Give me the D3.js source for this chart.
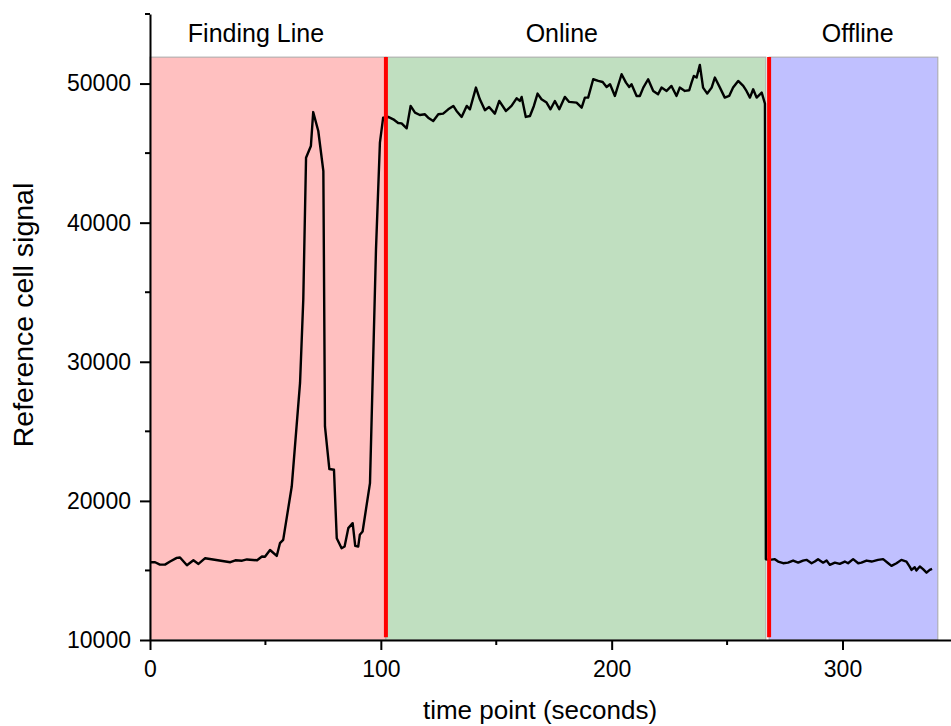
<!DOCTYPE html>
<html>
<head>
<meta charset="utf-8">
<script src="https://cdn.jsdelivr.net/npm/d3@7"></script>
<style>
  body { margin: 0; background: #fff; }
  svg { display: block; font-family: "Liberation Sans", Arial, sans-serif; }
</style>
</head>
<body>
<svg id="chart" width="951" height="726"></svg>
<script>
// time points (seconds) and reference cell signal
const timePoints = [
  0, 2.2, 4.3, 6.5, 8.7, 11.6, 13, 16, 18.8, 21, 23.9, 34.8, 37, 39.9, 42, 46.4, 48.5, 49.8,
  52.0, 54.9, 56.3, 57.7, 61.4, 65.0, 66.4, 67.6, 69.7, 70.7, 72.9, 75.1, 75.8, 77.7, 79.7,
  80.9, 83.0, 84.3, 85.9, 87.8, 88.9, 90.2, 90.9, 92.1, 95.3, 97.9, 99.6,
  101.0, 103.2, 105.4, 107.5, 109.0, 111.2, 112.9, 114.8, 116.9, 119.1, 120.5, 122.7, 124.9,
  127.0, 129.2, 131.4, 132.8, 135.0, 137.2, 138.6, 141.2, 142.9, 145.1, 146.9, 149.4, 151.3,
  154.2, 156.6, 158.8, 160.2, 161.0, 162.8, 164.6, 166.3, 167.9, 169.6, 171.8, 173.5, 175.4,
  177.3, 179.7, 181.6, 184.8, 187.0, 188.4, 189.8, 192.0, 194.2, 196.1, 197.8, 199.3, 201.4,
  204.3, 206.2, 207.6, 208.6, 210.8, 212.2, 213.7, 215.8, 218.0, 220.1, 221.6, 223.8, 225.9,
  228.1, 229.5, 231.7, 233.6, 234.6, 235.6, 236.8, 238.2, 239.6, 241.4, 243.3, 244.7, 246.9,
  249.0, 250.9, 252.6, 254.8, 257.0, 258.4, 259.9, 261.3, 262.8, 265.0, 266.4, 266.8,
  268.5, 270.7, 272.1, 274.3, 276.4, 278.6, 280.8, 282.9, 284.4, 286.6, 288.0, 289.4, 291.6,
  293.1, 294.5, 296.7, 298.8, 301.0, 302.4, 304.6, 306.8, 308.2, 310.4, 312.6, 315.4, 317.6,
  319.8, 321.2, 323.4, 325.5, 327.7, 329.1, 329.9, 331.3, 332.0, 333.5, 334.9, 336.4, 337.8, 338.8
];
const signal = [
  15590, 15590, 15420, 15420, 15640, 15900, 15930, 15370, 15730, 15470, 15880, 15590, 15730, 15700, 15790, 15730, 16000, 15980,
  16470, 16040, 16960, 17200, 21030, 28480, 34470, 44670, 45510, 47950, 46590, 43710, 25350, 22290, 22240,
  17320, 16600, 16720, 18040, 18400, 16770, 16720, 17560, 17800, 21280, 38070, 45750,
  47550, 47600, 47430, 47160, 47140, 46780, 48390, 47910, 47740, 47790, 47550, 47310, 47790,
  47840, 48150, 48390, 48030, 47600, 48390, 48150, 49710, 48870, 48080, 48320, 47840, 48750,
  48030, 48390, 48940, 48750, 49040, 47600, 47670, 48390, 49280, 48870, 48630, 48150, 48750,
  48150, 49040, 48680, 48630, 48270, 48990, 48990, 50310, 50190, 50110, 49750, 49950, 49110,
  50670, 50070, 49750, 49950, 49110, 49110, 49710, 50310, 49470, 49230, 49710, 49470, 49830,
  49110, 49710, 49470, 49520, 50070, 50550, 50430, 51340, 49710, 49280, 49710, 50430, 49710,
  48990, 49110, 49710, 50190, 49830, 49470, 48990, 49590, 48990, 49350, 48560, 15800,
  15760, 15810, 15640, 15520, 15560, 15710, 15560, 15710, 15760, 15520, 15640, 15810, 15560,
  15710, 15400, 15560, 15470, 15640, 15520, 15810, 15520, 15560, 15710, 15640, 15760, 15810,
  15520, 15330, 15520, 15760, 15640, 15280, 15040, 15230, 14990, 15280, 15090, 14840, 15040, 15110
];

// phases shown as shaded bands
const phaseNames = ["Finding Line", "Online", "Offline"];
const phaseStart = [0, 102.2, 268.2];
const phaseEnd = [102.2, 266.8, 341.3];
const phaseLabelAt = [45.9, 178.4, 306.6];
const phaseColors = ["#ffc0c0", "#c0dfc0", "#c0c0ff"];
const bandTop = 51900;
const switchTimes = [102.2, 268.2];

const xTicks = [0, 100, 200, 300];
const xMinorTicks = [50, 150, 250];
const yTicks = [10000, 20000, 30000, 40000, 50000];
const yMinorTicks = [15000, 25000, 35000, 45000, 55000];

const svg = d3.select("#chart");
const x = d3.scaleLinear().domain([0, 347]).range([150, 951]);
const y = d3.scaleLinear().domain([10000, 55000]).range([640, 14]);

const data = timePoints.map((t, i) => ({ t: t, v: signal[i] }));

// shaded bands
svg.selectAll("rect.band")
  .data(phaseNames)
  .enter().append("rect")
  .attr("class", "band")
  .attr("x", (d, i) => x(phaseStart[i]))
  .attr("y", y(bandTop))
  .attr("width", (d, i) => x(phaseEnd[i]) - x(phaseStart[i]))
  .attr("height", y(10000) - y(bandTop))
  .attr("fill", (d, i) => phaseColors[i])
  .attr("stroke", "#a8a8a8")
  .attr("stroke-width", 1);

svg.selectAll("text.phase")
  .data(phaseNames)
  .enter().append("text")
  .attr("class", "phase")
  .attr("x", (d, i) => x(phaseLabelAt[i]))
  .attr("y", y(bandTop) - 15)
  .attr("text-anchor", "middle")
  .attr("font-size", 25)
  .text(d => d);

// signal line
const line = d3.line().x(d => x(d.t)).y(d => y(d.v));
svg.append("path")
  .datum(data)
  .attr("d", line)
  .attr("fill", "none")
  .attr("stroke", "#000")
  .attr("stroke-width", 2.4)
  .attr("stroke-linejoin", "round");

// phase switch markers
svg.selectAll("line.switch")
  .data(switchTimes)
  .enter().append("line")
  .attr("class", "switch")
  .attr("x1", d => x(d)).attr("x2", d => x(d))
  .attr("y1", y(bandTop)).attr("y2", y(10200))
  .attr("stroke", "#ff0000")
  .attr("stroke-width", 4);

// axes
const xAxis = svg.append("g")
  .attr("transform", `translate(0,${y(10000)})`)
  .call(d3.axisBottom(x).tickValues(xTicks).tickSize(10).tickSizeOuter(0).tickPadding(11));
const yAxis = svg.append("g")
  .attr("transform", `translate(${x(0)},0)`)
  .call(d3.axisLeft(y).tickValues(yTicks).tickFormat(d3.format("d"))
    .tickSize(10).tickSizeOuter(0).tickPadding(9));

[xAxis, yAxis].forEach(g => {
  g.select(".domain").attr("stroke", "#000").attr("stroke-width", 2);
  g.selectAll(".tick line").attr("stroke", "#000").attr("stroke-width", 2);
  g.selectAll(".tick text").attr("font-size", 23).attr("fill", "#000")
    .attr("font-family", "'Liberation Sans', Arial, sans-serif");
});

xAxis.selectAll("line.minor")
  .data(xMinorTicks)
  .enter().append("line")
  .attr("class", "minor")
  .attr("x1", d => x(d)).attr("x2", d => x(d))
  .attr("y1", 0).attr("y2", 5)
  .attr("stroke", "#000").attr("stroke-width", 2);

yAxis.selectAll("line.minor")
  .data(yMinorTicks)
  .enter().append("line")
  .attr("class", "minor")
  .attr("x1", 0).attr("x2", -5)
  .attr("y1", d => y(d)).attr("y2", d => y(d))
  .attr("stroke", "#000").attr("stroke-width", 2);

// axis titles
svg.append("text")
  .attr("x", 540)
  .attr("y", 719)
  .attr("text-anchor", "middle")
  .attr("font-size", 26)
  .text("time point (seconds)");

svg.append("text")
  .attr("transform", `translate(33,${315}) rotate(-90)`)
  .attr("text-anchor", "middle")
  .attr("font-size", 28.5)
  .text("Reference cell signal");
</script>
</body>
</html>
